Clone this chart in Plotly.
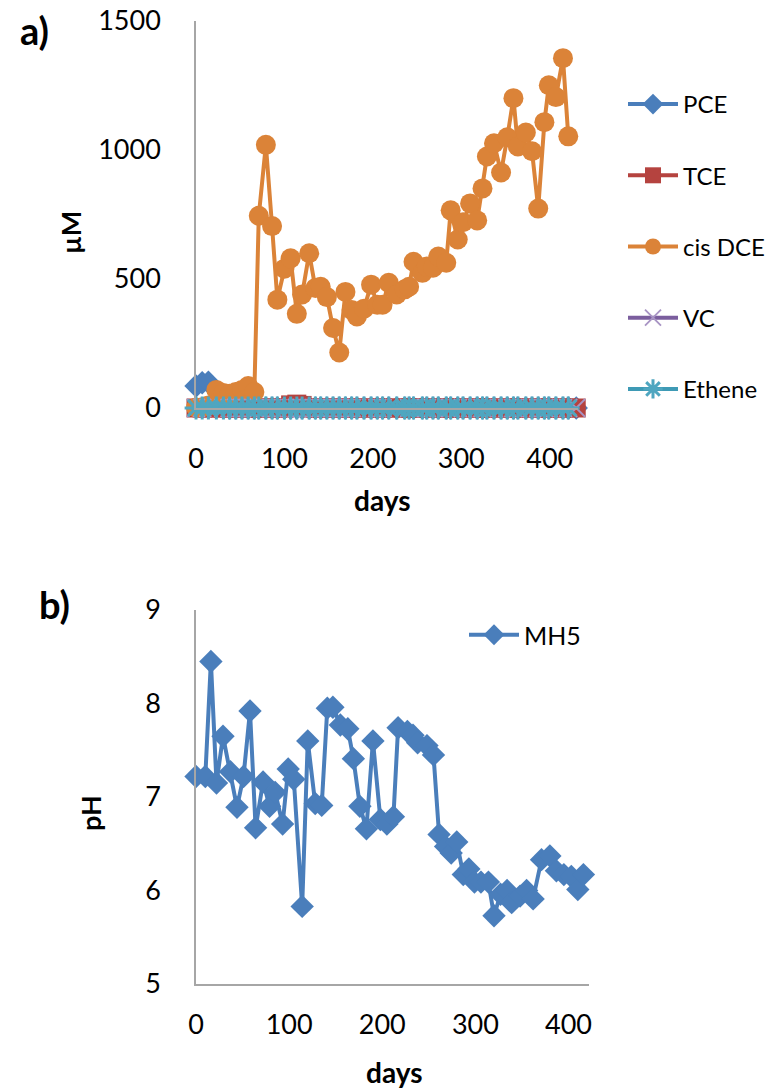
import plotly.graph_objects as go

# ---------- data: panel a (µM) ----------
days_a = [0, 7, 14, 23, 31, 38, 45, 52, 59, 66, 71, 79, 86, 92, 100, 107, 114, 120, 128, 135,
          141, 148, 155, 162, 169, 176, 182, 190, 198, 205, 211, 218, 227, 236, 241, 246, 256, 261,
          268, 274, 283, 288, 296, 302, 310, 318, 324, 329, 337, 345, 352, 359, 364, 373, 380,
          387, 394, 399, 407, 415, 421, 430]
pce = [85, 98, 100, 5, 2, 0, 0, 0, 0, 0, 0, 0, 0, 0, 0, 0, 0, 0, 0, 0,
       0, 0, 0, 0, 0, 0, 0, 0, 0, 0, 0, 0, 0, 0, 0, 0, 0, 0,
       0, 0, 0, 0, 0, 0, 0, 0, 0, 0, 0, 0, 0, 0, 0, 0, 0,
       0, 0, 0, 0, 0, 0, 0]
tce = [0, 0, 0, 0, 0, 0, 0, 0, 0, 0, 0, 0, 0, 0, 0, 12, 15, 10, 0, 0,
       0, 0, 0, 0, 0, 0, 0, 0, 0, 0, 0, 0, 0, 0, 0, 0, 0, 0,
       0, 0, 0, 0, 0, 0, 0, 0, 0, 0, 0, 0, 0, 0, 0, 0, 0,
       0, 0, 0, 0, 0, 0, 0]
cis_dce = [2, 3, 10, 70, 58, 55, 62, 70, 85, 62, 745, 1020, 705, 420, 540, 580, 365, 440, 600, 465,
           470, 430, 310, 215, 450, 380, 355, 385, 478, 400, 400, 485, 440, 460, 470, 567, 524, 548,
           544, 587, 563, 766, 653, 720, 793, 727, 851, 975, 1026, 913, 1049, 1201, 1014, 1068, 995,
           773, 1108, 1251, 1205, 1356, 1053, None]
vc = [0, 0, 0, 0, 0, 0, 0, 0, 0, 0, 0, 0, 0, 0, 0, 0, 0, 0, 0, 0,
      0, 0, 0, 0, 0, 0, 0, 0, 0, 0, 0, 0, 0, 0, 0, 0, 0, 0,
      0, 0, 0, 0, 0, 0, 0, 0, 0, 0, 0, 0, 0, 0, 0, 0, 0,
      0, 0, 0, 0, 0, 0, 0]
ethene = [0, 0, 0, 0, 0, 0, 0, 0, 0, 0, 0, 0, 0, 0, 0, 0, 0, 0, 0, 0,
          0, 0, 0, 0, 0, 0, 0, 0, 0, 0, 0, 0, 0, 0, 0, 0, 0, 0,
          0, 0, 0, 0, 0, 0, 0, 0, 0, 0, 0, 0, 0, 0, 0, 0, 0,
          0, 0, 0, 0, 0, 0, None]

# ---------- data: panel b (pH) ----------
days_b = [0, 10, 16, 22, 29, 37, 44, 51, 58, 64, 72, 79, 85, 93, 99, 105, 114, 120, 128, 135,
          141, 147, 155, 163, 169, 176, 183, 190, 198, 205, 212, 217, 227, 233, 238, 248, 255,
          261, 268, 274, 280, 287, 293, 299, 306, 314, 320, 327, 334, 339, 348, 355, 362, 371,
          380, 387, 395, 403, 410, 416]
ph_mh5 = [7.22, 7.22, 8.45, 7.15, 7.65, 7.27, 6.89, 7.22, 7.92, 6.67, 7.16, 6.90, 7.05, 6.71, 7.30,
          7.19, 5.83, 7.60, 6.93, 6.91, 7.95, 7.96, 7.77, 7.73, 7.41, 6.90, 6.66, 7.60, 6.76, 6.71,
          6.79, 7.74, 7.70, 7.66, 7.58, 7.55, 7.45, 6.60, 6.47, 6.40, 6.52, 6.17, 6.23, 6.09, 6.09,
          6.09, 5.73, 5.96, 6.00, 5.87, 5.94, 6.00, 5.91, 6.33, 6.37, 6.21, 6.17, 6.15, 6.01, 6.17]

x_ticks = [0, 100, 200, 300, 400]
ya_ticks = [0, 500, 1000, 1500]
yb_ticks = [5, 6, 7, 8, 9]

# ---------- styling ----------
W, H = 769, 1089
FONT = "Lato"
C_PCE = "#4A7EBB"
C_TCE = "#B5433F"
C_DCE = "#DB8338"
C_VC = "#7B5E9E"
C_ETH = "#3E9AB5"
AX = "#A6A6A6"

fig = go.Figure()

def add(x, y, name, color, symbol, size, mcolor=None, group=None, legend="legend",
        xaxis="x", yaxis="y", mline=0):
    fig.add_trace(go.Scatter(
        x=x, y=y, name=name, mode="lines+markers",
        line=dict(color=color, width=4),
        marker=dict(symbol=symbol, size=size, color=mcolor or color,
                    line=dict(width=mline, color=mcolor or color)),
        xaxis=xaxis, yaxis=yaxis, legend=legend, legendgroup=group,
        cliponaxis=False, connectgaps=False))

add(days_a, pce, "PCE", C_PCE, "diamond", 18, group="g1")
add(days_a, tce, "TCE", C_TCE, "square", 19, group="g2")
add(days_a, cis_dce, "cis DCE", C_DCE, "circle", 20, group="g3")
add(days_a, vc, "VC", C_VC, "x-thin-open", 18, mcolor="#A894C4", group="g4", mline=1.8)
add(days_a, ethene, "Ethene", C_ETH, "asterisk-open", 19, mcolor="#4FA6C0", group="g5", mline=3)
add(days_b, ph_mh5, "MH5", C_PCE, "diamond", 18, legend="legend2", xaxis="x2", yaxis="y2")

tick_font = dict(family=FONT, size=27, color="#000000")

common = dict(showgrid=False, zeroline=False, showline=True, linecolor=AX, linewidth=1.5,
              ticks="", tickfont=tick_font, automargin=False)

fig.update_layout(
    width=W, height=H,
    margin=dict(l=0, r=0, t=0, b=0, autoexpand=False),
    paper_bgcolor="white", plot_bgcolor="white",
    font=dict(family=FONT, color="#000000"),
    xaxis=dict(domain=[196 / W, 578 / W], range=[0, 432], anchor="y", tickvals=x_ticks,
               ticklabelstandoff=26, **common),
    yaxis=dict(domain=[1 - 408 / H, 1 - 21 / H], range=[0, 1500], tickvals=ya_ticks,
               anchor="x", ticklabelstandoff=28, **common),
    xaxis2=dict(domain=[196 / W, 589 / W], range=[0, 422], anchor="y2", tickvals=x_ticks,
                ticklabelstandoff=16, **common),
    yaxis2=dict(domain=[1 - 984 / H, 1 - 610 / H], range=[5, 9], tickvals=yb_ticks,
                anchor="x2", ticklabelstandoff=28, **common),
    legend=dict(x=623 / W, y=1 - 82 / H, xanchor="left", yanchor="top",
                font=dict(family=FONT, size=24, color="#000000"),
                tracegroupgap=37, bgcolor="rgba(0,0,0,0)", itemwidth=50),
    legend2=dict(x=464 / W, y=1 - 612 / H, xanchor="left", yanchor="top",
                 font=dict(family=FONT, size=25, color="#000000"),
                 bgcolor="rgba(0,0,0,0)", itemwidth=50),
    showlegend=True,
)

def ann(text, x, y, size, bold=True, angle=0):
    fig.add_annotation(
        text=f"<b>{text}</b>" if bold else text,
        x=x / W, y=1 - y / H, xref="paper", yref="paper",
        xanchor="center", yanchor="middle", showarrow=False, textangle=angle,
        font=dict(family=FONT, size=size, color="#000000"))

ann("a)", 34, 30, 38)
ann("b)", 54, 604, 38)
ann("µM", 70, 233, 27, angle=-90)
ann("pH", 90, 813, 27, angle=-90)
ann("days", 382, 500, 28)
ann("days", 394, 1072, 28)

fig.write_html("out.html")
